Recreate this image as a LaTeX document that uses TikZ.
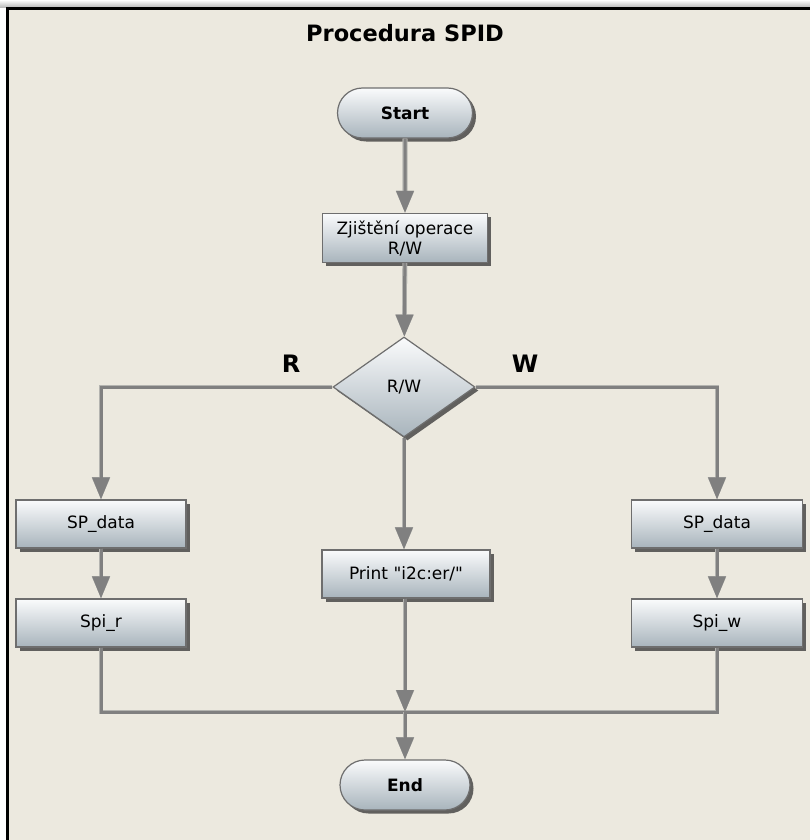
\documentclass[tikz,border=0pt]{standalone}
\usepackage{fontspec}
\setmainfont[Ligatures=TeXOff]{DejaVu Sans}
\usetikzlibrary{arrows.meta,shapes.geometric,shapes.misc,shadows}
\definecolor{bgc}{RGB}{236,233,223}
\definecolor{linec}{RGB}{128,128,128}
\definecolor{edgec}{RGB}{180,180,176}
\definecolor{boxbot}{RGB}{168,180,188}
\definecolor{boxtop}{RGB}{250,251,252}
\definecolor{bord}{RGB}{110,110,110}
\tikzset{
  boxbase/.style={draw=bord, line width=1.2pt, top color=boxtop, bottom color=boxbot,
    drop shadow={shadow xshift=3.5pt, shadow yshift=-3.5pt, opacity=0.75, fill=black!80},
    font=\fontsize{17}{20}\selectfont, align=center, inner sep=0pt},
  procbox/.style={boxbase, rectangle, minimum width=#1, minimum height=48pt},
  termbox/.style={boxbase, rounded rectangle, minimum width=#1, minimum height=50pt, font=\fontsize{17}{20}\selectfont\bfseries},
  decbox/.style={boxbase, diamond, minimum width=142pt, minimum height=100pt},
  conn/.style={draw=linec, line width=3pt, preaction={draw=edgec, line width=4.6pt}},
  arr/.style={conn, -{Triangle[length=22pt,width=17pt]}, preaction={draw=edgec, line width=4.6pt, -{Triangle[length=22pt,width=17pt]}}},
  lbl/.style={font=\fontsize{24}{28}\selectfont\bfseries}
}
\begin{document}
\begin{tikzpicture}[x=1pt,y=-1pt]
\useasboundingbox (0,0) rectangle (810,840);
\fill[white] (0,0) rectangle (810,840);
\shade[top color=white, bottom color=black!30] (0,0) rectangle (810,8);
\fill[bgc] (7,9) rectangle (810,840);
\draw[black, line width=3pt] (7,840) -- (7,9) -- (810,9);
\node[font=\fontsize{22.5}{26}\selectfont\bfseries] (title) at (405,33) {Procedura SPID};

\node[termbox=135pt] (start) at (405,113) {Start};
\node[procbox=165pt, minimum height=49pt] (zj) at (405,238) {Zjištění operace\\R/W};
\node[decbox] (dia) at (404,387) {R/W};
\node[procbox=170pt] (spl) at (101,524) {SP\_data};
\node[procbox=170pt] (spir) at (101,623) {Spi\_r};
\node[procbox=171pt] (spr) at (717,524) {SP\_data};
\node[procbox=171pt] (spiw) at (717,623) {Spi\_w};
\node[procbox=168pt] (pr) at (406,574) {Print "i2c:er/"};
\node[termbox=130pt] (end) at (405,785) {End};
\node[lbl] (lr) at (291,364) {R};
\node[lbl] (lw) at (525,364) {W};

\coordinate (m) at (405,712);

\draw[arr] (start) -- (zj);
\draw[arr] (zj) -- (dia);
\draw[arr] (dia.west) -| (spl.north);
\draw[arr] (dia.east) -| (spr.north);
\draw[arr] (dia.south) -- (dia.south |- pr.north);
\draw[arr] (spl) -- (spir);
\draw[arr] (spr) -- (spiw);
\draw[conn] (spir.south) |- (m);
\draw[conn] (spiw.south) |- (m);
\draw[arr] (pr.south -| m) -- (m);
\draw[arr] (m) -- (end);
\end{tikzpicture}
\end{document}
